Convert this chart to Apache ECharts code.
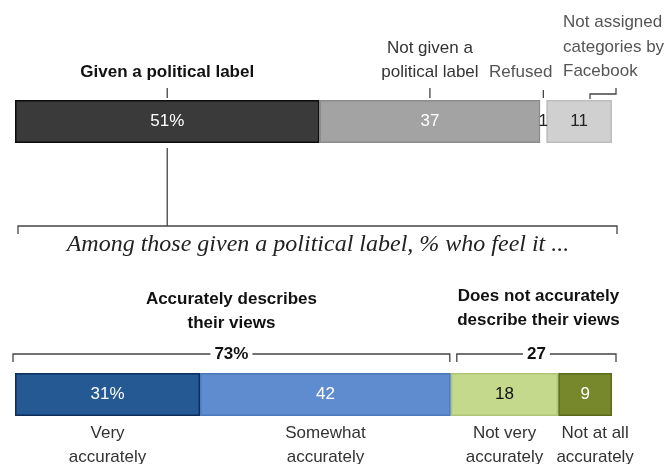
<!DOCTYPE html>
<html>
<head>
<meta charset="utf-8">
<script src="https://cdn.jsdelivr.net/npm/echarts@6/dist/echarts.min.js"></script>
<style>
  html, body { margin: 0; padding: 0; background: #fff; }
  #chart { width: 669px; height: 464px; }
</style>
</head>
<body>
<div id="chart"></div>
<script>
// top bar: how Facebook labelled users
const topNames = ['Given a political label', 'Not given a political label', 'Refused', 'Not assigned categories by Facebook']
const topValues = [51, 37, 1, 11]
const topLabels = ['51%', '37', '1', '11']
const topColors = ['#3a3a3a', '#a3a3a3', '#ffffff', '#d0d0d0']
const topBorders = ['#0c0c0c', '#8c8c8c', '#ffffff', '#bdbdbd']
const topText = ['#fff', '#fff', '#222', '#222']

// bottom bar: how accurate the label feels
const bottomNames = ['Very\naccurately', 'Somewhat\naccurately', 'Not very\naccurately', 'Not at all\naccurately']
const bottomValues = [31, 42, 18, 9]
const bottomLabels = ['31%', '42', '18', '9']
const bottomColors = ['#245993', '#5e8ccf', '#c4d98c', '#77882c']
const bottomBorders = ['#0d2d5c', '#4a78ba', '#aec477', '#5b6b1b']
const bottomText = ['#fff', '#fff', '#111', '#fff']

const groupNames = ['Accurately describes\ntheir views', 'Does not accurately\ndescribe their views']
const groupValues = [73, 27]
const groupLabels = ['73%', '27']

const chart = echarts.init(document.getElementById('chart'))
const sans = '"Liberation Sans", Arial, sans-serif'

const makeSeries = (vals, labels, colors, borders, textColors, idx, stack) =>
  vals.map((v, i) => ({
    type: 'bar',
    stack: stack,
    xAxisIndex: idx,
    yAxisIndex: idx,
    barWidth: '100%',
    silent: true,
    data: [v],
    itemStyle: { color: colors[i], borderColor: borders[i], borderWidth: 1.5 },
    label: {
      show: true,
      position: 'inside',
      formatter: labels[i],
      color: textColors[i],
      fontFamily: sans,
      fontSize: 17
    }
  }))

chart.setOption({
  animation: false,
  grid: [
    { left: 15, right: 57, top: 100, height: 43 },
    { left: 15, right: 57, top: 373, height: 43 }
  ],
  xAxis: [0, 1].map(i => ({ gridIndex: i, type: 'value', min: 0, max: 100, show: false })),
  yAxis: [0, 1].map(i => ({ gridIndex: i, type: 'category', data: [''], show: false })),
  series: [
    ...makeSeries(topValues, topLabels, topColors, topBorders, topText, 0, 'top'),
    ...makeSeries(bottomValues, bottomLabels, bottomColors, bottomBorders, bottomText, 1, 'bottom')
  ]
})

// pixel helpers from the axes
const px0 = v => chart.convertToPixel({ xAxisIndex: 0 }, v)
const px1 = v => chart.convertToPixel({ xAxisIndex: 1 }, v)
const mid = (vals, i) => vals.slice(0, i).reduce((a, b) => a + b, 0) + vals[i] / 2

const line = (pts) => ({
  type: 'polyline',
  shape: { points: pts },
  style: { stroke: '#444', lineWidth: 1.3, fill: null },
  silent: true
})
const text = (str, x, y, opts) => ({
  type: 'text',
  x: x,
  y: y,
  silent: true,
  style: Object.assign({
    text: str,
    align: 'center',
    verticalAlign: 'middle',
    fill: '#333',
    font: '17px ' + sans,
    lineHeight: 24
  }, opts || {})
})

const g = []
// top labels and ticks
const c0 = px0(mid(topValues, 0))
const c1 = px0(mid(topValues, 1))
const c2 = px0(mid(topValues, 2))
g.push(text(topNames[0], c0, 72, { font: 'bold 17px ' + sans, fill: '#111' }))
g.push(line([[c0, 88], [c0, 98]]))
g.push(text('Not given a\npolitical label', c1, 60))
g.push(line([[c1, 88], [c1, 98]]))
g.push(text(topNames[2], c2 + 9, 72, { align: 'right', fill: '#555' }))
g.push(line([[c2, 90], [c2, 98]]))
g.push(text('Not assigned\ncategories by\nFacebook', px0(100) - 49, 47, { align: 'left', fill: '#555', lineHeight: 24.5 }))
g.push(line([[px0(100) - 22, 99], [px0(100) - 22, 94], [px0(100) + 4, 94], [px0(100) + 4, 88]]))

// connector down to the second chart
g.push(line([[c0, 148], [c0, 226]]))
g.push(line([[px0(0) + 3, 234], [px0(0) + 3, 226], [px0(100) + 5, 226], [px0(100) + 5, 234]]))
g.push(text('Among those given a political label, % who feel it ...', 318, 245, {
  font: 'italic 24px "Liberation Serif", serif', fill: '#222'
}))

// group headers and brackets
let start = 0
groupValues.forEach((v, i) => {
  const a = px1(start) + (i === 0 ? -2 : 6)
  const b = px1(start + v) + (i === 0 ? -1 : 4)
  const c = (a + b) / 2
  g.push(text(groupNames[i], c + (i === 1 ? 2 : 0), i === 0 ? 311 : 308, { font: 'bold 17px ' + sans, fill: '#111' }))
  g.push(line([[a, 362], [a, 354], [b, 354], [b, 362]]))
  g.push(text(groupLabels[i], c, 354, {
    font: 'bold 17px ' + sans, fill: '#111', backgroundColor: '#fff', padding: [0, 4]
  }))
  start += v
})

// category names below the bottom bar
bottomNames.forEach((n, i) => {
  const shift = i === 3 ? 10 : 0
  g.push(text(n, px1(mid(bottomValues, i)) + shift, 445))
})

chart.setOption({ graphic: g })
</script>
</body>
</html>
